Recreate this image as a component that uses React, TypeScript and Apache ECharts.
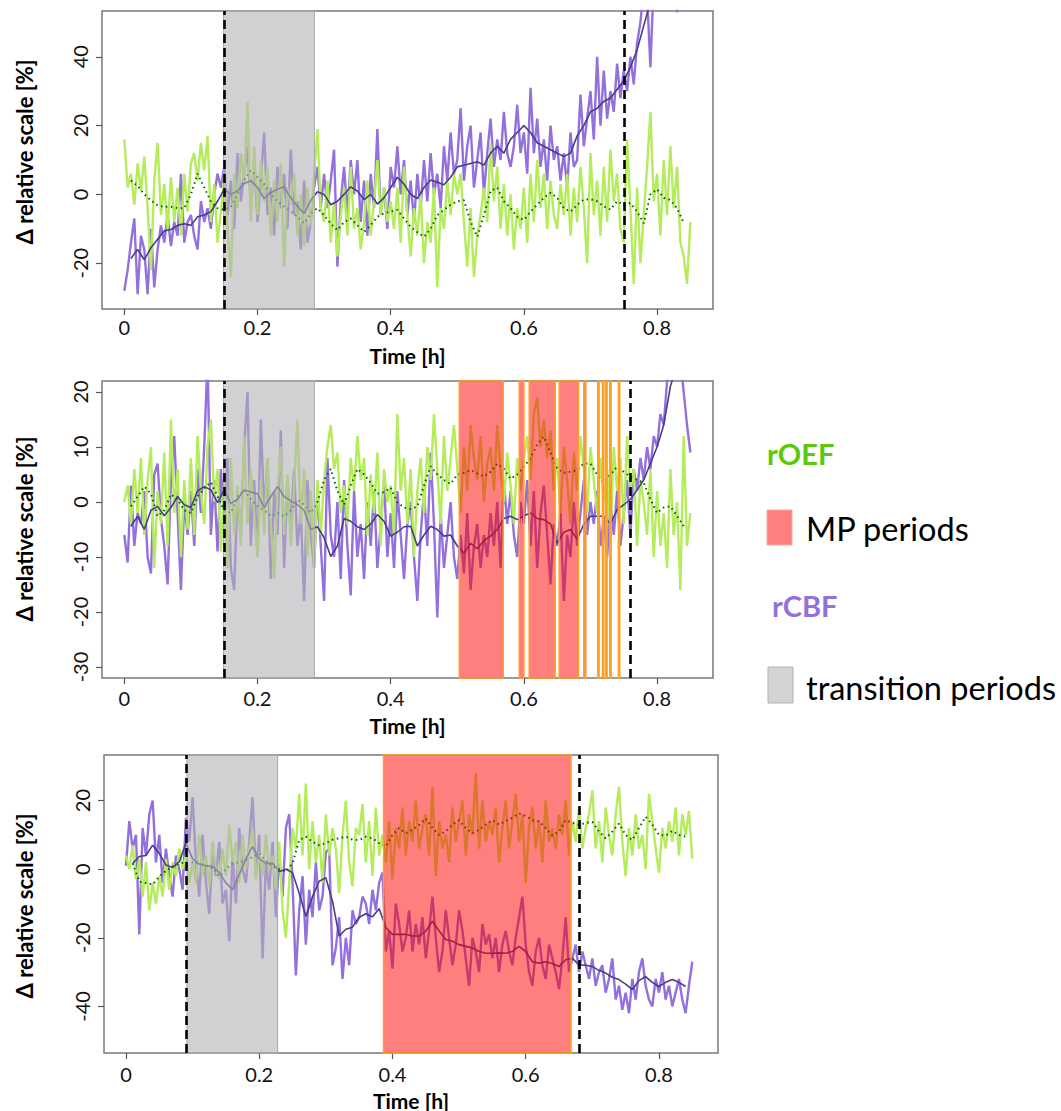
import React, { useEffect, useRef } from "react";
import * as echarts from "echarts";

// ---------- DATA ----------
const RAW_STEP = 0.005; // raw samples every 0.005 h, starting at 0
const SMOOTH_START = 0.01;
const SMOOTH_STEP = 0.01;

const xTicks = [0, 0.2, 0.4, 0.6, 0.8];
const p1YTicks = [-20, 0, 20, 40];
const p2YTicks = [-30, -20, -10, 0, 10, 20];
const p3YTicks = [-40, -20, 0, 20];

// Panel 1
const p1Oef = [
  16, 2, 6, -3, 9, 1, 11, -4, -22, 4,
  15, -6, 3, -10, 5, -8, 2, -12, 6, -5,
  9, 12, 4, 15, 7, 17, -8, 3, -14, -5,
  5, -10, -24, 6, -4, 12, 3, 27, -8, 14,
  -6, 10, -2, 8, -12, 4, -8, 9, -21, 2,
  -3, 6, -12, 0, -15, 2, -9, 5, 19, -4,
  -8, 4, -14, -2, -18, -6, 2, -12, 8, -10,
  -4, -16, -8, 4, -12, -2, 10, -6, 2, -8,
  -2, -10, 2, -14, 8, -6, -18, -4, -12, 0,
  -20, -8, -14, 2, -27, -4, -10, 4, -6, 6,
  0, 6, -8, -21, -4, -24, -12, -6, 2, -8,
  15, -2, 8, -10, 3, -12, 0, -16, -4, -10,
  2, -14, 6, -8, 10, -4, 6, -10, 4, -6,
  -10, 3, -6, 6, -12, 2, -8, 8, -4, -20,
  12, -6, 4, -12, 8, -8, 13, -2, 6, -10,
  -14, 16, -4, -26, 2, -20, -6, 8, 24, -2,
  6, -12, 10, -6, 14, -4, 8, -14, -18, -26, -8,
];
const p1Cbf = [
  -28, -22, -14, -7, -29, -12, -16, -29, -10, -27,
  -16, -9, -14, -6, -15, -8, -12, 6, -14, -8,
  -6, -12, -16, -2, -8, -4, -10, 0, 6, 2,
  8, -6, 4, -10, 12, -2, 6, 14, -4, 10,
  -8, 4, 18, -6, 2, -12, 8, -4, 6, -10,
  13, -6, -2, -16, 4, -14, -8, 2, 8, -4,
  6, -4, 4, 13, -21, -2, 8, -6, 10, 0,
  10, -8, 4, -12, 6, -4, 19, -6, 2, -10,
  8, 2, 14, 0, 10, -6, 4, -8, 6, -4,
  10, -2, 12, 0, 6, -4, 14, 4, 18, 6,
  10, 25, 4, 14, 20, 2, 10, 18, 0, 12,
  22, 8, 16, 10, 24, 12, 8, 14, 26, 12,
  18, 6, 31, 12, 22, 8, 16, 4, 20, 10,
  14, 4, 12, 2, 18, 8, 10, 29, 14, 22,
  30, 16, 40, 20, 36, 22, 30, 24, 38, 28,
  36, 30, 40, 32, 44, 50, 60, 58, 37, 62,
  66, 70, 62, 72, 64, 58, 53, 60, 68, 62, 66,
];
const p1OefSmooth = [
  4, 2.5, 0, -1.7, -3.2, -3.6, -3.6, -4, -4, 0,
  6, 2, -2, -4, -4.5, -3.6, 0, 4.2, 7, 5,
  3, 0, -2, -3.6, -5, -6.5, -8.4, -5.5, -4, -6,
  -8.5, -10.4, -8, -7, -9, -10.9, -9, -6.5, -5.5, -5,
  -4.5, -7, -9.4, -11, -12.3, -10, -6, -4.5, -3, -2,
  -1.7, -8, -12.3, -6, 1, 2, -2, -4, -6.5, -7.4,
  -5, -3, -1, 0.5, -1, -4, -5, -3, -1.5, -1.4,
  -2, -3.5, -4.4, -2, -3, -2.5, -5, -8.4, 0, 1.5,
  -1, -1.6, -4, -8.3,
];
const p1CbfSmooth = [
  -18.6, -16, -19, -15.5, -13, -10.6, -10.2, -9, -8.5, -9,
  -6.5, -6, -5, -2, 1.5, 0, 1, 3.2, 4, 2,
  -1.2, 0.5, 1.5, 2.2, -1, -3.5, -5.5, -1.7, 0.8, 0,
  -3, -2, 0, 2.2, 1, -1.5, 0, -2.8, -1, 2,
  5, 3, 0, -1.2, 2, 4.2, 3.5, 2.8, 5, 8,
  8.5, 9, 9.5, 8.5, 12, 14, 12, 16, 18, 20,
  18, 15, 14, 13, 12, 11, 12, 17, 20, 24,
  25, 27, 28, 30.5, 33, 37, 42, 49, 56, 60,
  62, 64, 66, 66,
];
const p1Dashed = [0.1465, 0.7545];
const p1Transition = [[0.149, 0.2855]];
const p1Mp: number[][] = [];

// Panel 2
const p2Oef = [
  0, 3, -4, 6, -2, 8, -6, 4, 10, -12,
  2, -4, 9, -8, 15, -2, 6, -10, 4, -5,
  8, -6, 12, 2, -4, 10, 15, 0, 6, -9,
  4, -12, 8, -6, 3, -8, 12, -4, 6, -2,
  -10, 4, -6, 8, -4, -14, 2, 10, -6, 5,
  -8, 3, 15, -4, 6, -10, 2, -12, 4, -6,
  4, 10, 14, 6, 9, -2, 3, -4, 8, 2,
  12, 4, 8, -6, 5, -2, 9, -8, 6, 0,
  3, -6, 16, 2, 8, -4, 6, -10, 2, 8,
  -2, 10, 4, 16, 6, -4, 12, 2, 8, 14,
  6, -2, 10, 2, 14, 8, 4, 12, 0, 7,
  10, 2, 14, 6, 0, 9, 3, -4, 8, 2,
  8, 12, 4, 16, 19, 10, 15, 8, 13, 2,
  8, -2, 10, 4, -4, 9, 2, 12, 6, -2,
  10, 4, -2, 8, 0, 6, -6, 10, 2, 8,
  -4, 12, 2, 6, -8, 4, 0, -6, 6, -10,
  2, -8, -2, -12, 6, -6, 0, -16, 12, -8, -2,
];
const p2Cbf = [
  -6, -11, 3, -8, -2, -4, 2, -10, -13, 5,
  7, -3, -8, -15, 4, 12, -2, -16, 0, -6,
  2, -8, 6, -2, 10, 26, -6, 4, -9, 6,
  -4, 8, -12, -16, 2, -6, 10, 20, -8, 4,
  -10, 15, -2, 8, -14, 2, -6, 13, -12, 4,
  -4, 6, -8, -2, -18, 4, -6, -12, 2, -8,
  -18, 8, -6, -10, 0, -14, 4, -8, -17, 2,
  -10, -4, -14, 0, -8, 2, -12, -4, 4, -10,
  -2, -12, 2, -6, -14, -4, 0, -10, -18, -6,
  2, -8, 9, -4, -21, -2, -12, -6, 0, -10,
  -14, -6, -13, -2, -16, -8, -4, -12, -6, -10,
  -2, -8, 0, -12, 4, -4, 2, -6, -10, 0,
  -4, 4, -8, 2, -12, -2, 3, -6, -15, -4,
  -8, -2, -18, -6, -10, 0, -8, -2, 4, -6,
  0, -4, 2, -8, -3, -10, 0, -6, 2, -8,
  -2, 4, -6, 6, 2, 8, 4, 10, 6, 12,
  10, 16, 14, 22, 26, 24, 28, 26, 20, 14, 9,
];
const p2OefSmooth = [
  -0.8, 1, 2.8, 1.5, -2.6, -1.5, 1.4, 0.5, -1.5, -2,
  1, 2.5, 3.6, 1, -1.5, -2, 1, 2.2, 0.5, -0.8,
  -1.5, -2.6, -2, -2.6, -1.5, 0.4, -0.5, -2, 0, 4,
  6, 2, -0.5, 3, 6, 5, 3.5, 1.5, 1.8, 2.6,
  -0.1, -1, -1.3, -0.8, 3, 6.5, 5, 4, 3.3, 5,
  5.3, 5.8, 5.2, 4.6, 5.5, 7, 6, 4.2, 5, 6.4,
  8, 10.5, 11.9, 9, 6, 5.3, 5.5, 5.8, 7, 7,
  5, 3.6, 5, 6.4, 5.5, 4.6, 4, 3.5, 0.5, -2,
  -1, -0.8, -2.5, -4.4,
];
const p2CbfSmooth = [
  -4.4, -2.6, -5, -1.5, -0.8, -2.5, -1, 1, -0.5, -1,
  2, 2.8, 2.2, -0.1, 2.2, -0.3, 0.5, 2.2, 1.8, 1.5,
  -1, 1, 2.8, 1, 0.2, -0.5, -1.5, -5, -4.5, -6.5,
  -9.9, -8, -3, -3.5, -4.5, -5, -4, -2.3, -3.5, -6.2,
  -5.5, -4.5, -4.4, -8, -6, -4.4, -5, -6.2, -6, -8,
  -9.3, -7.5, -8.5, -7, -6.2, -5, -3, -2.6, -3.2, -2.5,
  -2, -3, -3.2, -4, -7.5, -5.5, -5, -6.8, -4, -2.6,
  -2.6, -2.6, -4, -1.4, -0.5, 0.5, 2.2, 4, 7, 10,
  14, 21, 25, 26,
];
const p2Dashed = [0.1465, 0.755];
const p2Transition = [[0.149, 0.2855]];
const p2Mp = [
  [0.503, 0.569], [0.593, 0.6], [0.608, 0.647], [0.653, 0.682],
  [0.69, 0.693], [0.711, 0.713], [0.718, 0.72], [0.723, 0.725],
  [0.729, 0.731], [0.742, 0.744],
];

// Panel 3
const p3Oef = [
  4, 0, 7, -3, 3, -8, 2, -12, -4, -10,
  -2, -8, 3, -6, 2, -2, 6, 0, 4, -4,
  2, -4, 10, -2, 4, -5, 8, 0, -3, 6,
  -2, 13, 2, 8, -4, 10, 0, 6, 12, -3,
  5, -2, 10, 0, 4, -6, 8, -12, -20, -4,
  12, 6, 22, 4, 25, 0, 14, 2, 10, -4,
  16, 4, 12, 6, -7, 10, 20, 2, -5, 12,
  10, 19, 2, 14, -2, 18, 4, 10, 2, 14,
  -3, 12, 6, 18, 4, 14, 8, 20, 6, 12,
  16, 4, 24, -2, 14, 6, 10, 2, 18, 8,
  14, 20, 4, 16, 10, 28, 6, 20, 8, 14,
  10, 18, 2, 12, 20, 6, 14, 22, 8, 16,
  -4, 12, 18, 6, 14, 2, 20, 8, 12, 6,
  16, 10, 20, 4, 14, 8, 18, 6, 12, 16,
  23, 6, 14, 2, 18, 10, 4, 16, 24, 8,
  -2, 12, 4, 16, 6, 10, 0, 22, 14, 6,
  -1, 12, 6, 14, 8, 18, 4, 16, 10, 17, 3,
];
const p3Cbf = [
  1, 14, 6, 10, -19, 12, 4, 16, 20, 2,
  10, -4, 6, -2, -8, 4, 0, -6, 15, 8,
  21, 2, -8, 10, -4, -13, 6, -2, 8, -10,
  -6, -21, 4, -10, 12, 0, -4, 8, 21, -2,
  10, -26, 2, -6, 8, -14, 4, -8, 12, 16,
  -4, -31, -12, -2, -22, -6, -14, 2, -12, -8,
  5, 6, -28, -23, -14, -32, -20, -28, -12, -16,
  -14, -8, -10, -16, -6, -12, -4, -1, -24, -18,
  -29, -10, -16, -24, -20, -12, -24, -16, -22, -14,
  -26, -18, -8, -20, -30, -24, -12, -20, -28, -22,
  -12, -18, -26, -34, -20, -24, -30, -16, -22, -19,
  -26, -20, -30, -22, -18, -24, -28, -20, -14, -8,
  -22, -30, -34, -24, -20, -28, -32, -22, -26, -30,
  -35, -26, -14, -30, -26, -22, -30, -24, -28, -32,
  -26, -34, -30, -28, -36, -32, -26, -38, -34, -41,
  -36, -42, -32, -38, -30, -26, -34, -38, -40, -32,
  -36, -30, -38, -34, -40, -36, -32, -38, -42, -34, -27,
];
const p3OefSmooth = [
  1.7, -3.6, -4, -4.5, -2.1, -0.5, 0.8, 1.5, 2.2, 2,
  1.7, 1, 0.3, -2.1, 0, 1.7, 2, 2.7, 3.5, 4.6,
  2.5, 0.8, 0, -0.7, 1.7, 8.5, 9.5, 8, 7, 7.6,
  8.6, 9, 9.5, 8.6, 8.5, 9.5, 9, 7.6, 6.6, 10,
  12, 10.5, 11.5, 12.9, 14.8, 12, 10, 11, 13, 14.3,
  12, 10.5, 11.5, 13, 14.3, 13, 14, 15, 16.3, 15.5,
  14.3, 14, 12, 9.8, 11, 14.3, 13.5, 12.9, 13.5, 13.8,
  11, 9, 11, 13.3, 10, 8.5, 12, 15.3, 13, 10,
  9.8, 11.2, 10, 9.5,
];
const p3CbfSmooth = [
  1.7, 3.7, 4, 7, 4.6, 1.2, 0.5, 2.2, 7.6, 3,
  1.5, 1, 0.8, -1, -4, -6, -1.5, 3, 6.6, 3,
  1.7, 1.7, -0.7, 0, -1, -7, -13.8, -8, -3.5, -2.5,
  -9.4, -19.5, -17.5, -16.9, -14, -13, -13.9, -11.5, -17, -19,
  -19, -19, -19.5, -19.5, -18, -15.2, -18, -20.5, -21, -22,
  -22.5, -23, -24, -24.5, -24.5, -24.4, -24.5, -24, -22.5, -24,
  -27, -27.4, -27, -27.5, -28.4, -26.4, -26, -27.9, -28, -28.4,
  -29.5, -30.3, -31.5, -32.2, -33.5, -35.1, -32.5, -31.3, -33, -34.2,
  -33, -32.2, -33, -34.2,
];
const p3Dashed = [0.0885, 0.678];
const p3Transition = [[0.0915, 0.2276]];
const p3Mp = [[0.3866, 0.668]];

const xTitle = "Time [h]";
const yTitle = "Δ relative scale [%]";

// ---------- STYLE / LAYOUT ----------
const GREEN_RAW = "#B4EC5C";
const PURPLE_RAW = "#9370DB";
const NAVY = "#483D8B";
const DARK_GREEN = "#0A5A0A";
const FONT = "Lato";
const LEGEND_FONT = "Lato";

const layouts = [
  { left: 102, top: 11, width: 611, height: 298, xMin: -0.0335, xMax: 0.884, yMin: -33.3, yMax: 53.3, labelMargin: 8, xTitleY: 355, yTitleY: 152 },
  { left: 102, top: 381, width: 611, height: 297, xMin: -0.0335, xMax: 0.884, yMin: -32, yMax: 22, labelMargin: 10, xTitleY: 725, yTitleY: 529 },
  { left: 104, top: 755, width: 614, height: 298, xMin: -0.033, xMax: 0.8886, yMin: -53.6, yMax: 33.3, labelMargin: 11, xTitleY: 1100, yTitleY: 906 },
];

const panels = [
  { oef: p1Oef, cbf: p1Cbf, oefS: p1OefSmooth, cbfS: p1CbfSmooth, yTicks: p1YTicks, dashed: p1Dashed, transition: p1Transition, mp: p1Mp },
  { oef: p2Oef, cbf: p2Cbf, oefS: p2OefSmooth, cbfS: p2CbfSmooth, yTicks: p2YTicks, dashed: p2Dashed, transition: p2Transition, mp: p2Mp },
  { oef: p3Oef, cbf: p3Cbf, oefS: p3OefSmooth, cbfS: p3CbfSmooth, yTicks: p3YTicks, dashed: p3Dashed, transition: p3Transition, mp: p3Mp },
];

const rawPairs = (vals: number[]) => vals.map((v, i) => [+(i * RAW_STEP).toFixed(3), v]);
const smoothPairs = (vals: number[]) => vals.map((v, i) => [+(SMOOTH_START + i * SMOOTH_STEP).toFixed(3), v]);

function buildOption() {
  const grid: any[] = [];
  const xAxis: any[] = [];
  const yAxis: any[] = [];
  const series: any[] = [];
  const graphic: any[] = [];

  panels.forEach((p, i) => {
    const L = layouts[i];
    grid.push({
      left: L.left, top: L.top, width: L.width, height: L.height,
      show: true, borderColor: "#7a7a7a", borderWidth: 1.5, backgroundColor: "transparent",
    });
    xAxis.push({
      type: "value", gridIndex: i, min: L.xMin, max: L.xMax,
      axisLine: { show: false, onZero: false },
      splitLine: { show: false },
      axisTick: { show: true, inside: false, customValues: xTicks, length: 6, lineStyle: { color: "#555", width: 1.2 } },
      axisLabel: {
        customValues: xTicks, margin: L.labelMargin, fontSize: 20, lineHeight: 20, color: "#111", fontFamily: FONT,
        formatter: (v: number) => String(parseFloat(v.toFixed(1))),
      },
    });
    yAxis.push({
      type: "value", gridIndex: i, min: L.yMin, max: L.yMax,
      axisLine: { show: false, onZero: false },
      splitLine: { show: false },
      axisTick: { show: true, inside: false, customValues: p.yTicks, length: 6, lineStyle: { color: "#555", width: 1.2 } },
      axisLabel: {
        customValues: p.yTicks, rotate: 90, margin: 12, fontSize: 20, lineHeight: 20, color: "#111", fontFamily: FONT,
      },
    });

    // axis titles
    graphic.push({
      type: "text", x: L.left + L.width / 2, y: L.xTitleY, z: 20,
      style: { text: xTitle, font: `bold 21px ${FONT}`, lineHeight: 21, fill: "#000", align: "center", verticalAlign: "middle" },
    });
    graphic.push({
      type: "text", x: 24, y: L.yTitleY, rotation: Math.PI / 2, z: 20,
      style: { text: yTitle, font: `bold 22px ${FONT}`, fill: "#000", align: "center", verticalAlign: "middle" },
    });

    const common = { xAxisIndex: i, yAxisIndex: i, showSymbol: false, symbol: "none", silent: true, animation: false, clip: true };
    series.push({ ...common, type: "line", name: `rCBF raw ${i}`, data: rawPairs(p.cbf), z: 2,
      lineStyle: { width: 2.4, color: PURPLE_RAW } });
    series.push({ ...common, type: "line", name: `rOEF raw ${i}`, data: rawPairs(p.oef), z: 2,
      lineStyle: { width: 2.4, color: GREEN_RAW } });
    series.push({ ...common, type: "line", name: `rOEF smooth ${i}`, data: smoothPairs(p.oefS), z: 3,
      lineStyle: { width: 2, color: DARK_GREEN, type: [1.5, 3.5] } });
    series.push({ ...common, type: "line", name: `rCBF smooth ${i}`, data: smoothPairs(p.cbfS), z: 3,
      lineStyle: { width: 1.6, color: NAVY } });

    const areaData: any[] = [];
    p.transition.forEach(([a, b]) => {
      areaData.push([{ xAxis: a, itemStyle: { color: "rgba(178,176,182,0.6)", borderColor: "#a9a9a9", borderWidth: 1 } }, { xAxis: b }]);
    });
    p.mp.forEach(([a, b]) => {
      areaData.push([{ xAxis: a, itemStyle: { color: "rgba(255,0,0,0.5)", borderColor: "#FFA020", borderWidth: 1.5 } }, { xAxis: b }]);
    });
    series.push({
      type: "line", xAxisIndex: i, yAxisIndex: i, data: [], silent: true, z: 10,
      markArea: { silent: true, z: 10, label: { show: false }, data: areaData },
      markLine: {
        silent: true, z: 11, symbol: ["none", "none"], label: { show: false },
        lineStyle: { color: "#000", width: 2.6, type: [9, 5] },
        data: p.dashed.map((d) => ({ xAxis: d })),
      },
    });
  });

  graphic.push(
    { type: "text", x: 767, y: 453, style: { text: "rOEF", font: `bold 29px ${LEGEND_FONT}`, fill: "#5CC80A", verticalAlign: "middle" } },
    { type: "rect", shape: { x: 767, y: 510, width: 25, height: 35 }, style: { fill: "#FF7F7F", stroke: "#FFA8A0", lineWidth: 1 } },
    { type: "text", x: 806, y: 528, style: { text: "MP periods", font: `32.5px ${LEGEND_FONT}`, fill: "#000", verticalAlign: "middle" } },
    { type: "text", x: 772, y: 605, style: { text: "rCBF", font: `bold 29px ${LEGEND_FONT}`, fill: "#9370DB", verticalAlign: "middle" } },
    { type: "rect", shape: { x: 768, y: 667, width: 25, height: 36 }, style: { fill: "#D4D4D4", stroke: "#B0B0B0", lineWidth: 1 } },
    { type: "text", x: 806, y: 687, style: { text: "transition periods", font: `32.5px ${LEGEND_FONT}`, fill: "#000", verticalAlign: "middle" } },
  );

  return { animation: false, backgroundColor: "#fff", grid, xAxis, yAxis, series, graphic };
}

export default function App() {
  const ref = useRef<HTMLDivElement>(null);
  useEffect(() => {
    document.body.style.margin = "0";
    if (!ref.current) return;
    const chart = echarts.init(ref.current, undefined, { renderer: "svg" });
    chart.setOption(buildOption() as any);
    return () => chart.dispose();
  }, []);
  return <div ref={ref} style={{ width: 1061, height: 1111 }} />;
}
